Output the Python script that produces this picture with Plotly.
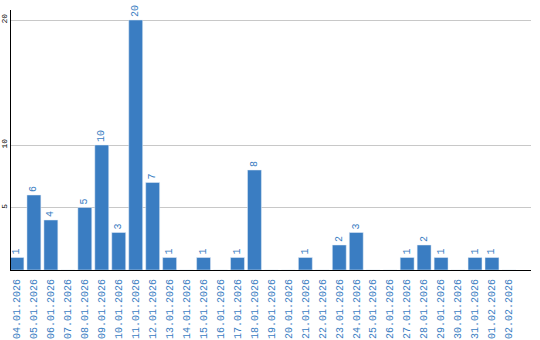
import plotly.graph_objects as go

dates = ["04.01.2026", "05.01.2026", "06.01.2026", "07.01.2026", "08.01.2026", "09.01.2026",
         "10.01.2026", "11.01.2026", "12.01.2026", "13.01.2026", "14.01.2026", "15.01.2026",
         "16.01.2026", "17.01.2026", "18.01.2026", "19.01.2026", "20.01.2026", "21.01.2026",
         "22.01.2026", "23.01.2026", "24.01.2026", "25.01.2026", "26.01.2026", "27.01.2026",
         "28.01.2026", "29.01.2026", "30.01.2026", "31.01.2026", "01.02.2026", "02.02.2026"]
values = [1, 6, 4, 0, 5, 10, 3, 20, 7, 1, 0, 1, 0, 1, 8, 0, 0, 1, 0, 2, 3, 0, 0, 1, 2, 1, 0, 1, 1, 0]
ytick_vals = [5, 10, 20]

blue = "#3a7dc2"
labels = [str(v) if v > 0 else "" for v in values]
font = "Liberation Mono"

fig = go.Figure(go.Bar(
    x=dates, y=values, marker_color=blue, width=0.82,
    text=labels, textposition="outside", textangle=-90,
    textfont=dict(family=font, size=10, color=blue),
    cliponaxis=False,
))
fig.update_layout(
    width=540, height=340,
    margin=dict(l=11, r=9, t=10, b=70),
    paper_bgcolor="white", plot_bgcolor="white",
    showlegend=False,
    xaxis=dict(type="category", range=[-0.35, 30.3], showline=True, linecolor="black",
               linewidth=1, showgrid=False, ticks="", tickangle=-90, automargin=False,
               ticklabelstandoff=4,
               tickfont=dict(family=font, size=10, color=blue)),
    yaxis=dict(range=[0, 20.8], showline=True, linecolor="black", linewidth=1,
               tickvals=ytick_vals, ticks="", tickangle=-90, showgrid=True, automargin=False,
               gridcolor="#c8c8c8", gridwidth=1, zeroline=False, ticklabelstandoff=0,
               tickfont=dict(family=font, size=8, color="black")),
)
fig.write_html("out.html")
